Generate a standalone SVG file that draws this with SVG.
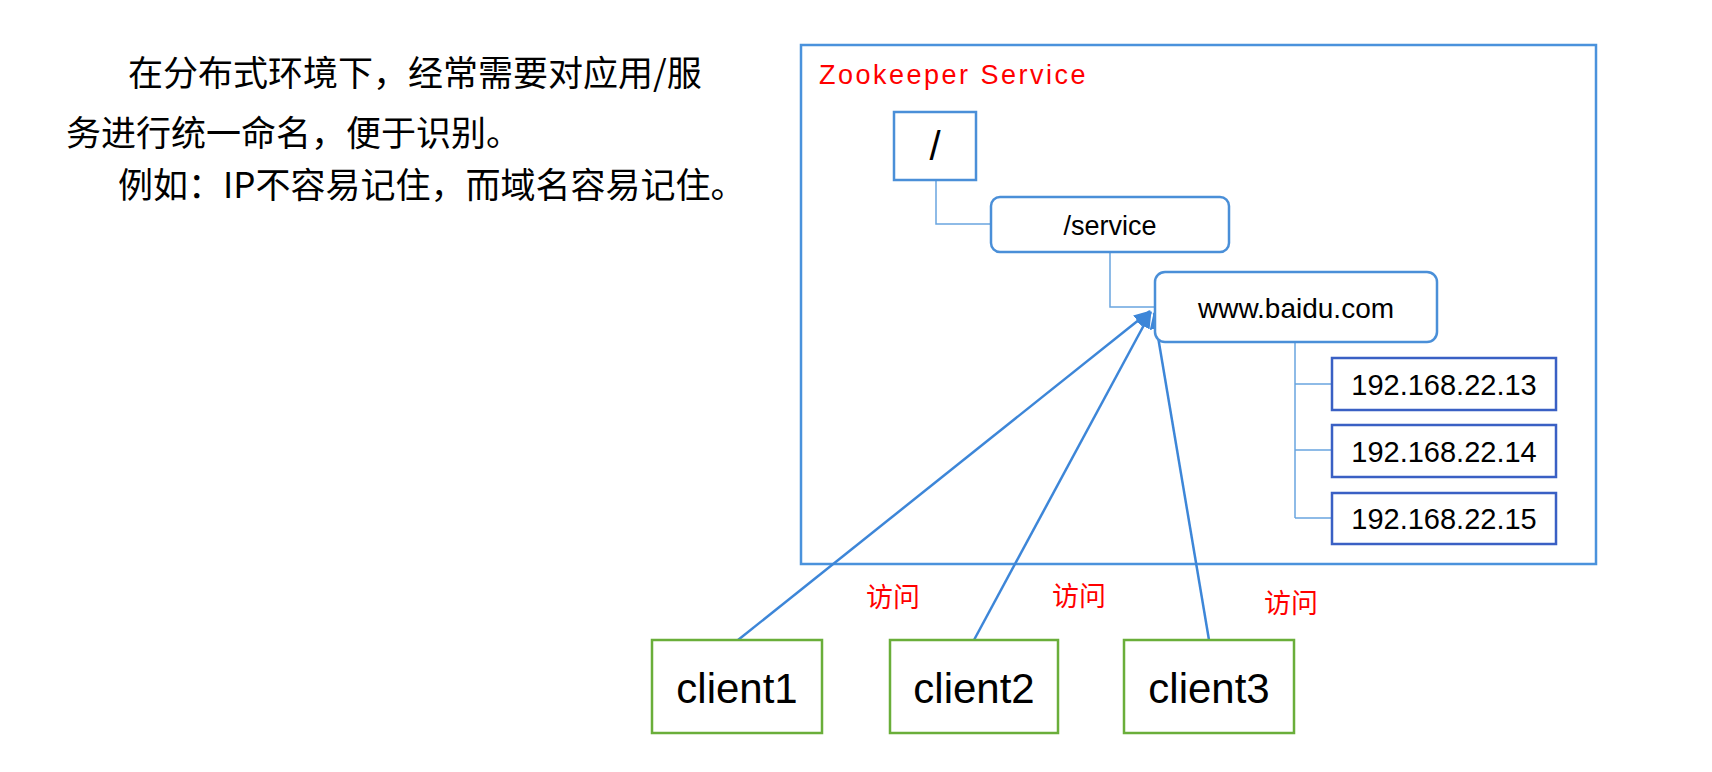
<svg xmlns="http://www.w3.org/2000/svg" width="1712" height="772" viewBox="0 0 1712 772">
  <style>
    .cjk { font-family: "Noto Sans CJK SC", "Liberation Sans", sans-serif; fill: #000; font-size: 35px; }
    .red { font-family: "Noto Sans CJK SC", sans-serif; fill: #ff0000; font-size: 27px; }
    .lbl { font-family: "Liberation Sans", Arial, sans-serif; fill: #000; text-anchor: middle; }
    .tree { fill: #fff; stroke: #4a8fd8; stroke-width: 2.5; }
    .ip { fill: #fff; stroke: #3a60c4; stroke-width: 2.5; }
    .client { fill: #fff; stroke: #6aae3a; stroke-width: 2.5; }
    .conn { fill: none; stroke: #6aa5e0; stroke-width: 1.5; }
    .arrow { fill: none; stroke: #3d86d8; stroke-width: 2.5; }
  </style>
  <defs>
    <marker id="ah" markerUnits="userSpaceOnUse" markerWidth="18" markerHeight="14" refX="16" refY="7" orient="auto">
      <path d="M0,0 L17,7 L0,14 z" fill="#3d86d8"/>
    </marker>
  </defs>
  <rect width="1712" height="772" fill="#fff"/>

  <g id="intro">
    <text class="cjk" x="128" y="86">在分布式环境下，经常需要对应用/服</text>
    <text class="cjk" x="66" y="146">务进行统一命名，便于识别。</text>
    <text class="cjk" x="118" y="198">例如：IP不容易记住，而域名容易记住。</text>
  </g>

  <g id="zookeeper-service">
    <rect x="801" y="45" width="795" height="519" fill="none" stroke="#4a92dc" stroke-width="2.5"/>
    <text x="819" y="84" font-family="Liberation Sans, Arial, sans-serif" font-size="27" fill="#ff0000" letter-spacing="2.5">Zookeeper Service</text>
  </g>

  <g id="connectors">
    <path class="conn" d="M936,180 V224 H991"/>
    <path class="conn" d="M1110,252 V307 H1155"/>
    <path class="conn" d="M1295,342 V518 M1295,384 H1332 M1295,450 H1332 M1295,518 H1332"/>
    <line class="arrow" x1="738" y1="640" x2="1150" y2="311" marker-end="url(#ah)"/>
    <line class="arrow" x1="974" y1="640" x2="1151" y2="312" marker-end="url(#ah)"/>
    <line class="arrow" x1="1209" y1="640" x2="1154" y2="313" marker-end="url(#ah)"/>
  </g>

  <g id="root">
    <rect class="tree" x="894" y="112" width="82" height="68" stroke-width="3"/>
    <text class="lbl" x="935" y="160" font-size="40">/</text>
  </g>
  <g id="service">
    <rect class="tree" x="991" y="197" width="238" height="55" rx="9" stroke-width="2"/>
    <text class="lbl" x="1110" y="235" font-size="27">/service</text>
  </g>
  <g id="baidu">
    <rect class="tree" x="1155" y="272" width="282" height="70" rx="10" stroke-width="2"/>
    <text class="lbl" x="1296" y="318" font-size="28">www.baidu.com</text>
  </g>
  <g id="ip13">
    <rect class="ip" x="1332" y="358" width="224" height="52"/>
    <text class="lbl" x="1444" y="395" font-size="29">192.168.22.13</text>
  </g>
  <g id="ip14">
    <rect class="ip" x="1332" y="425" width="224" height="52"/>
    <text class="lbl" x="1444" y="462" font-size="29">192.168.22.14</text>
  </g>
  <g id="ip15">
    <rect class="ip" x="1332" y="493" width="224" height="51"/>
    <text class="lbl" x="1444" y="529" font-size="29">192.168.22.15</text>
  </g>

  <g id="labels">
    <text class="red" x="866" y="607">访问</text>
    <text class="red" x="1052" y="606">访问</text>
    <text class="red" x="1264" y="613">访问</text>
  </g>

  <g id="client1">
    <rect class="client" x="652" y="640" width="170" height="93"/>
    <text class="lbl" x="737" y="703" font-size="42">client1</text>
  </g>
  <g id="client2">
    <rect class="client" x="890" y="640" width="168" height="93"/>
    <text class="lbl" x="974" y="703" font-size="42">client2</text>
  </g>
  <g id="client3">
    <rect class="client" x="1124" y="640" width="170" height="93"/>
    <text class="lbl" x="1209" y="703" font-size="42">client3</text>
  </g>
</svg>
